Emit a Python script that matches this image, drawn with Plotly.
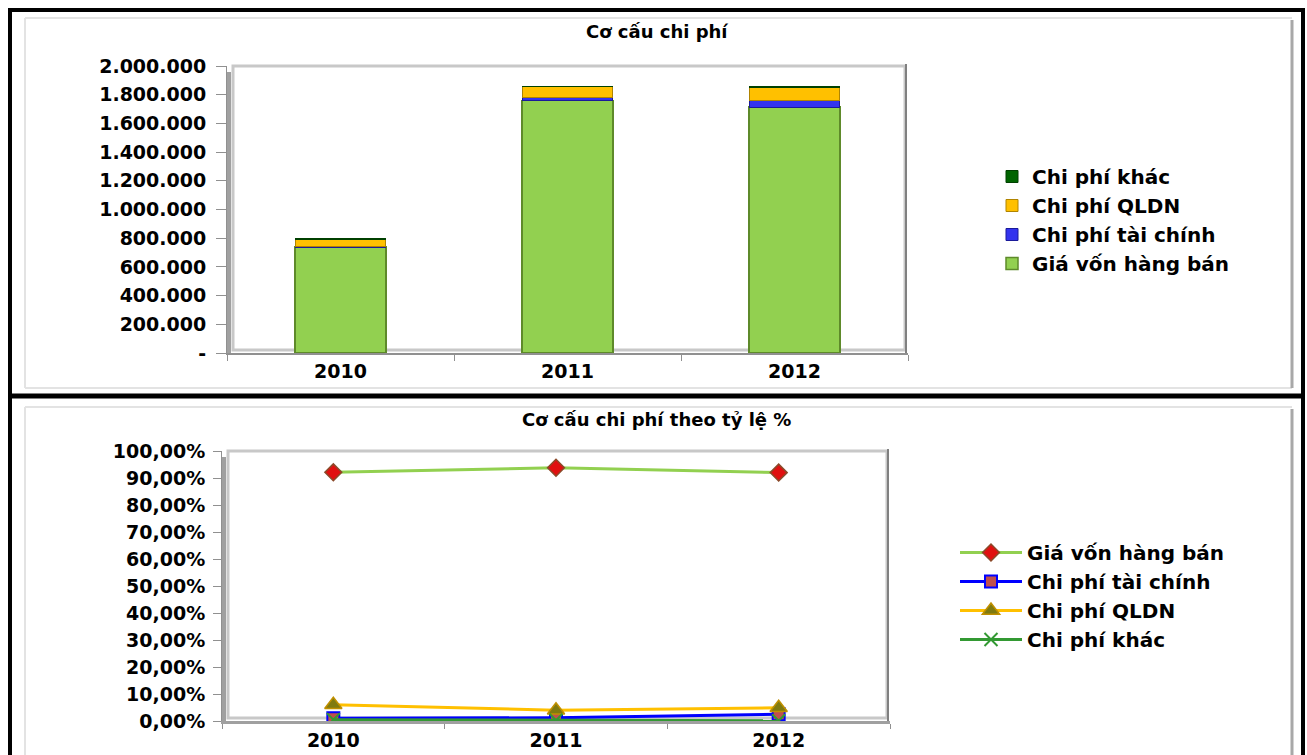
import plotly.graph_objects as go

W, H = 1307, 755

# ---------------- data ----------------
years = ["2010", "2011", "2012"]

# Top chart: absolute values (stacked)
gia_von = [737000, 1758000, 1714000]
tai_chinh = [8000, 22000, 46000]
qldn = [48000, 75000, 92000]
khac = [4000, 5000, 2000]

# Bottom chart: share in %
pct_gia_von = [0.921, 0.938, 0.920]
pct_tai_chinh = [0.010, 0.012, 0.025]
pct_qldn = [0.060, 0.040, 0.049]
pct_khac = [0.005, 0.003, 0.001]

top_tickvals = [0, 200000, 400000, 600000, 800000, 1000000, 1200000,
                1400000, 1600000, 1800000, 2000000]
top_ticktext = ["-", "200.000", "400.000", "600.000", "800.000", "1.000.000",
                "1.200.000", "1.400.000", "1.600.000", "1.800.000", "2.000.000"]
bot_tickvals = [0, 0.1, 0.2, 0.3, 0.4, 0.5, 0.6, 0.7, 0.8, 0.9, 1.0]
bot_ticktext = ["0,00%", "10,00%", "20,00%", "30,00%", "40,00%", "50,00%",
                "60,00%", "70,00%", "80,00%", "90,00%", "100,00%"]

title_top = "Cơ cấu chi phí"
title_bot = "Cơ cấu chi phí theo tỷ lệ %"


def px(x):
    return x / W


def py(y):
    return 1 - y / H


FONT = "DejaVu Sans, Liberation Sans, Arial, sans-serif"
tickfont = dict(family=FONT, size=19, color="black", weight="bold")
legfont = dict(family=FONT, size=20, color="black", weight="bold")
titlefont = dict(family=FONT, size=18, color="black", weight="bold")

fig = go.Figure()

# ---------------- top chart: stacked bars ----------------
fig.add_trace(go.Bar(x=years, y=gia_von, name="Giá vốn hàng bán",
                     marker=dict(color="#92D050", line=dict(color="#5E8A2A", width=1.5)),
                     xaxis="x", yaxis="y", legend="legend"))
fig.add_trace(go.Bar(x=years, y=tai_chinh, name="Chi phí tài chính",
                     marker=dict(color="#3333EE", line=dict(color="#1A1A99", width=1)),
                     xaxis="x", yaxis="y", legend="legend"))
fig.add_trace(go.Bar(x=years, y=qldn, name="Chi phí QLDN",
                     marker=dict(color="#FFC000", line=dict(color="#B08400", width=1)),
                     xaxis="x", yaxis="y", legend="legend"))
fig.add_trace(go.Bar(x=years, y=khac, name="Chi phí khác",
                     marker=dict(color="#006400", line=dict(color="#004000", width=1)),
                     xaxis="x", yaxis="y", legend="legend"))

# ---------------- bottom chart: lines ----------------
fig.add_trace(go.Scatter(x=years, y=pct_gia_von, name="Giá vốn hàng bán", mode="lines+markers",
                         line=dict(color="#92D050", width=3),
                         marker=dict(symbol="diamond", size=13, color="#E01010",
                                     line=dict(color="#8B4A2A", width=1.5)),
                         xaxis="x2", yaxis="y2", legend="legend2"))
fig.add_trace(go.Scatter(x=years, y=pct_tai_chinh, name="Chi phí tài chính", mode="lines+markers",
                         line=dict(color="#0000FF", width=3),
                         marker=dict(symbol="square", size=12, color="#C0504D",
                                     line=dict(color="#0000FF", width=2)),
                         xaxis="x2", yaxis="y2", legend="legend2"))
fig.add_trace(go.Scatter(x=years, y=pct_qldn, name="Chi phí QLDN", mode="lines+markers",
                         line=dict(color="#FFC000", width=3),
                         marker=dict(symbol="triangle-up", size=15, color="#7F7A10",
                                     line=dict(color="#C09000", width=1.5)),
                         xaxis="x2", yaxis="y2", legend="legend2"))
fig.add_trace(go.Scatter(x=years, y=pct_khac, name="Chi phí khác", mode="lines+markers",
                         line=dict(color="#339933", width=3),
                         marker=dict(symbol="x-thin", size=13, color="#339933",
                                     line=dict(color="#339933", width=2)),
                         xaxis="x2", yaxis="y2", legend="legend2"))

# ---------------- frames and walls ----------------
shapes = []


def pline(x0, y0, x1, y1, color, width):
    shapes.append(dict(type="line", xref="paper", yref="paper",
                       x0=px(x0), x1=px(x1), y0=py(y0), y1=py(y1),
                       line=dict(color=color, width=width), layer="below"))


# outer black frames
pline(8, 10, 1305, 10, "black", 4)
pline(10, 8, 10, 755, "black", 4)
pline(1303, 8, 1303, 755, "black", 4)
pline(8, 396, 1305, 396, "black", 5)
# inner light panels
for (t, b) in [(18, 388), (407, 755)]:
    pline(25, t, 1292, t, "#E3E3E3", 2)
    pline(25, t, 25, b, "#E3E3E3", 2)
    if b < 755:
        pline(25, b, 1292, b, "#E3E3E3", 2)
    pline(1292, t + 2, 1292, b, "#A8A8A8", 3)
# plot walls (3D style back wall frame)
for (l, r, t, b) in [(227, 908, 64, 353), (222, 890, 449, 721)]:
    shapes.append(dict(type="rect", xref="paper", yref="paper",
                       x0=px(l + 6), x1=px(r - 3), y0=py(b - 3), y1=py(t + 2),
                       line=dict(color="#C8C8C8", width=3), layer="below"))
    pline(r - 2, t, r - 2, b, "#808080", 2)
    pline(l + 2, t + 8, l + 2, b, "#A0A0A0", 4)

annotations = [
    dict(text=title_top, xref="paper", yref="paper", x=px(657), y=py(32),
         xanchor="center", yanchor="middle", showarrow=False, font=titlefont),
    dict(text=title_bot, xref="paper", yref="paper", x=px(657), y=py(420),
         xanchor="center", yanchor="middle", showarrow=False, font=titlefont),
]

axis_common = dict(showgrid=False, zeroline=False, tickfont=tickfont, automargin=False)

fig.update_layout(
    template="none",
    width=W, height=H,
    margin=dict(l=0, r=0, t=0, b=0, autoexpand=False),
    paper_bgcolor="white", plot_bgcolor="rgba(0,0,0,0)",
    barmode="stack", bargap=0.6,
    showlegend=True,
    shapes=shapes, annotations=annotations,
    xaxis=dict(domain=[px(227), px(908)], anchor="y", type="category",
               range=[-0.5, 2.5],
               showline=True, linecolor="#909090", linewidth=2,
               ticks="outside", tickson="boundaries", ticklen=6, tickcolor="#909090",
               **axis_common),
    yaxis=dict(domain=[py(353), py(66)], anchor="x", range=[0, 2000000],
               tickvals=top_tickvals, ticktext=top_ticktext,
               showline=True, linecolor="#909090", linewidth=1,
               ticks="outside", ticklen=10, tickcolor="#909090", ticklabelstandoff=6,
               **axis_common),
    xaxis2=dict(domain=[px(222), px(890)], anchor="y2", type="category",
                range=[-0.5, 2.5],
                showline=True, linecolor="#A0A0A0", linewidth=3,
                ticks="outside", tickson="boundaries", ticklen=5, tickcolor="#909090",
                **axis_common),
    yaxis2=dict(domain=[py(721), py(451)], anchor="x2", range=[0, 1.0],
                tickvals=bot_tickvals, ticktext=bot_ticktext,
                showline=True, linecolor="#909090", linewidth=1,
                ticks="outside", ticklen=8, tickcolor="#909090", ticklabelstandoff=4,
                **axis_common),
    legend=dict(x=px(992), y=py(157), xanchor="left", yanchor="top",
                traceorder="reversed", bgcolor="rgba(0,0,0,0)",
                font=legfont, itemwidth=30, tracegroupgap=0),
    legend2=dict(x=px(955), y=py(533), xanchor="left", yanchor="top",
                 bgcolor="rgba(0,0,0,0)", font=legfont, itemwidth=62),
)

fig.write_html("out.html")
